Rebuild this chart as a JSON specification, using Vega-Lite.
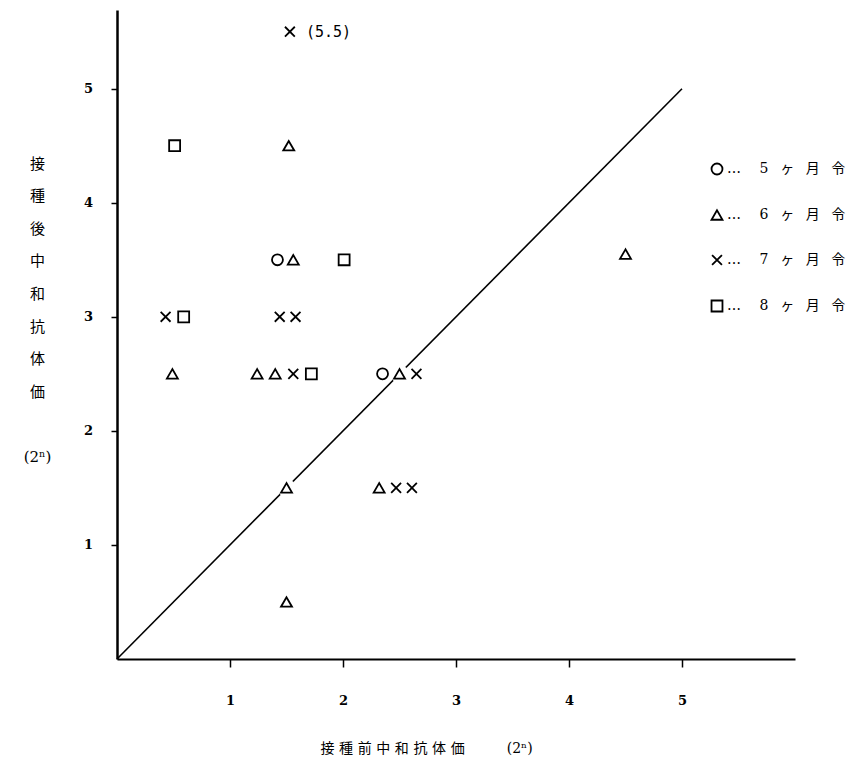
{
  "$schema": "https://vega.github.io/schema/vega-lite/v6.json",
  "autosize": "none",
  "width": 678,
  "height": 649,
  "padding": {"left": 117, "top": 10, "right": 65, "bottom": 105},
  "background": "white",
  "config": {
    "view": {"stroke": null},
    "font": "DejaVu Serif, Noto Sans CJK JP"
  },
  "datasets": {
    "titers": [
      {"before": 1.53, "after": 5.5, "age": "7\u2002\u2004ヶ\u2002\u2004月\u2002\u2004令"},
      {"before": 0.51, "after": 4.5, "age": "8\u2002\u2004ヶ\u2002\u2004月\u2002\u2004令"},
      {"before": 1.52, "after": 4.5, "age": "6\u2002\u2004ヶ\u2002\u2004月\u2002\u2004令"},
      {"before": 1.42, "after": 3.5, "age": "5\u2002\u2004ヶ\u2002\u2004月\u2002\u2004令"},
      {"before": 1.56, "after": 3.5, "age": "6\u2002\u2004ヶ\u2002\u2004月\u2002\u2004令"},
      {"before": 2.01, "after": 3.5, "age": "8\u2002\u2004ヶ\u2002\u2004月\u2002\u2004令"},
      {"before": 4.5, "after": 3.55, "age": "6\u2002\u2004ヶ\u2002\u2004月\u2002\u2004令"},
      {"before": 0.43, "after": 3.0, "age": "7\u2002\u2004ヶ\u2002\u2004月\u2002\u2004令"},
      {"before": 0.59, "after": 3.0, "age": "8\u2002\u2004ヶ\u2002\u2004月\u2002\u2004令"},
      {"before": 1.44, "after": 3.0, "age": "7\u2002\u2004ヶ\u2002\u2004月\u2002\u2004令"},
      {"before": 1.58, "after": 3.0, "age": "7\u2002\u2004ヶ\u2002\u2004月\u2002\u2004令"},
      {"before": 0.49, "after": 2.5, "age": "6\u2002\u2004ヶ\u2002\u2004月\u2002\u2004令"},
      {"before": 1.24, "after": 2.5, "age": "6\u2002\u2004ヶ\u2002\u2004月\u2002\u2004令"},
      {"before": 1.4, "after": 2.5, "age": "6\u2002\u2004ヶ\u2002\u2004月\u2002\u2004令"},
      {"before": 1.56, "after": 2.5, "age": "7\u2002\u2004ヶ\u2002\u2004月\u2002\u2004令"},
      {"before": 1.72, "after": 2.5, "age": "8\u2002\u2004ヶ\u2002\u2004月\u2002\u2004令"},
      {"before": 2.35, "after": 2.5, "age": "5\u2002\u2004ヶ\u2002\u2004月\u2002\u2004令"},
      {"before": 2.5, "after": 2.5, "age": "6\u2002\u2004ヶ\u2002\u2004月\u2002\u2004令"},
      {"before": 2.65, "after": 2.5, "age": "7\u2002\u2004ヶ\u2002\u2004月\u2002\u2004令"},
      {"before": 1.5, "after": 1.5, "age": "6\u2002\u2004ヶ\u2002\u2004月\u2002\u2004令"},
      {"before": 2.32, "after": 1.5, "age": "6\u2002\u2004ヶ\u2002\u2004月\u2002\u2004令"},
      {"before": 2.47, "after": 1.5, "age": "7\u2002\u2004ヶ\u2002\u2004月\u2002\u2004令"},
      {"before": 2.61, "after": 1.5, "age": "7\u2002\u2004ヶ\u2002\u2004月\u2002\u2004令"},
      {"before": 1.5, "after": 0.5, "age": "6\u2002\u2004ヶ\u2002\u2004月\u2002\u2004令"}
    ],
    "identity": [
      {"before": 0, "after": 0},
      {"before": 5, "after": 5}
    ]
  },
  "encoding": {
    "x": {
      "field": "before",
      "type": "quantitative",
      "scale": {"domain": [0, 6], "nice": false, "zero": false},
      "axis": {
        "values": [1, 2, 3, 4, 5],
        "grid": false,
        "domainColor": "black",
        "domainWidth": 2,
        "tickColor": "black",
        "tickWidth": 1.5,
        "tickSize": 8,
        "labelPadding": 33,
        "labelBaseline": "middle",
        "labelFont": "DejaVu Serif",
        "labelFontWeight": "bold",
        "labelFontSize": 13,
        "labelColor": "black",
        "title": "接\u2004種\u2004前\u2004中\u2004和\u2004抗\u2004体\u2004価\u2002\u2002\u2002\u2002\u2002\u2002(2ⁿ)",
        "titleFont": "DejaVu Serif, Noto Sans CJK JP",
        "titleFontSize": 14,
        "titleFontWeight": "normal",
        "titleColor": "black",
        "titleAnchor": "middle",
        "titleX": 309,
        "titleY": 89,
        "titleBaseline": "middle"
      }
    },
    "y": {
      "field": "after",
      "type": "quantitative",
      "scale": {"domain": [0, 5.69], "nice": false, "zero": false},
      "axis": {
        "values": [1, 2, 3, 4, 5],
        "grid": false,
        "domainColor": "black",
        "domainWidth": 2.5,
        "tickColor": "black",
        "tickWidth": 1.5,
        "tickSize": 6,
        "labelPadding": 23,
        "labelAlign": "center",
        "labelBaseline": "middle",
        "labelFont": "DejaVu Serif",
        "labelFontWeight": "bold",
        "labelFontSize": 13,
        "labelColor": "black",
        "title": ["接", "種", "後", "中", "和", "抗", "体", "価", "\u2800", "(2ⁿ)"],
        "titleFont": "DejaVu Serif, Noto Sans CJK JP",
        "titleFontSize": 15,
        "titleFontWeight": "normal",
        "titleColor": "black",
        "titleAngle": 0,
        "titleAlign": "center",
        "titleBaseline": "top",
        "titleLineHeight": 32.6,
        "titleX": -80,
        "titleY": 146
      }
    }
  },
  "layer": [
    {
      "data": {"name": "identity"},
      "mark": {"type": "line", "color": "black", "strokeWidth": 1.6}
    },
    {
      "data": {"name": "titers"},
      "mark": {"type": "point", "shape": "circle", "filled": true, "color": "white", "size": 330, "opacity": 1}
    },
    {
      "data": {"name": "titers"},
      "mark": {"type": "point", "filled": false, "color": "black", "strokeWidth": 1.8, "size": 120, "opacity": 1},
      "encoding": {
        "shape": {
          "field": "age",
          "type": "nominal",
          "scale": {
            "domain": ["5\u2002\u2004ヶ\u2002\u2004月\u2002\u2004令", "6\u2002\u2004ヶ\u2002\u2004月\u2002\u2004令", "7\u2002\u2004ヶ\u2002\u2004月\u2002\u2004令", "8\u2002\u2004ヶ\u2002\u2004月\u2002\u2004令"],
            "range": ["circle", "triangle-up", "M-0.9,-0.9L0.9,0.9M-0.9,0.9L0.9,-0.9", "square"]
          },
          "legend": {
            "orient": "none",
            "legendX": 593,
            "legendY": 152,
            "title": null,
            "labelExpr": "'…\u2002\u2002\u2004' + datum.label",
            "labelFont": "DejaVu Serif, Noto Sans CJK JP",
            "labelFontSize": 14,
            "labelColor": "black",
            "labelOffset": 3,
            "labelLimit": 300,
            "rowPadding": 27,
            "symbolSize": 120,
            "symbolStrokeColor": "black",
            "symbolStrokeWidth": 1.8,
            "symbolFillColor": "transparent",
            "symbolOpacity": 1
          }
        }
      }
    },
    {
      "data": {"name": "titers"},
      "transform": [{"filter": "datum.after > 5"}],
      "mark": {
        "type": "text",
        "align": "left",
        "baseline": "middle",
        "dx": 16,
        "font": "DejaVu Sans Mono",
        "fontSize": 15,
        "color": "black",
        "text": {"expr": "'(' + format(datum.after, '.1f') + ')'"}
      }
    }
  ]
}
